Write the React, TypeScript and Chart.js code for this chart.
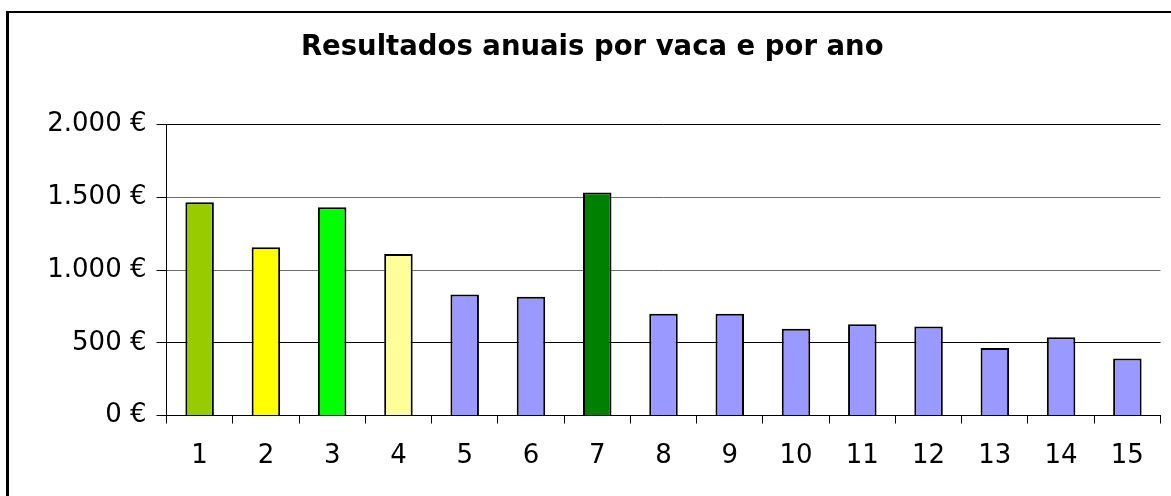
import React, { useEffect, useRef } from 'react';
import { Chart, registerables } from 'chart.js';

Chart.register(...registerables);

const categories = ['1', '2', '3', '4', '5', '6', '7', '8', '9', '10', '11', '12', '13', '14', '15'];
const values = [1465, 1157, 1432, 1110, 831, 817, 1533, 700, 700, 596, 627, 611, 464, 537, 392];
const barColors = [
  '#99CC00', '#FFFF00', '#00FF00', '#FFFF99', '#9999FF', '#9999FF', '#008000',
  '#9999FF', '#9999FF', '#9999FF', '#9999FF', '#9999FF', '#9999FF', '#9999FF', '#9999FF',
];
const yTickValues = [0, 500, 1000, 1500, 2000];
const yTickLabels = ['0 €', '500 €', '1.000 €', '1.500 €', '2.000 €'];
const titleText = 'Resultados anuais por vaca e por ano';

export default function App() {
  const canvasRef = useRef<HTMLCanvasElement | null>(null);

  useEffect(() => {
    const canvas = canvasRef.current;
    if (!canvas) return;
    const chart = new Chart(canvas, {
      type: 'bar',
      data: {
        labels: categories,
        datasets: [
          {
            data: values,
            backgroundColor: barColors,
            borderColor: '#000000',
            borderWidth: 2,
            barPercentage: 0.43,
            categoryPercentage: 1,
          },
        ],
      },
      options: {
        responsive: false,
        animation: false,
        devicePixelRatio: 1,
        layout: { padding: { left: 0, right: 10.5, top: 0, bottom: 0 } },
        plugins: {
          legend: { display: false },
          tooltip: { enabled: false },
          title: {
            display: true,
            text: titleText,
            color: '#000000',
            font: { family: 'DejaVu Sans', size: 27.5, weight: 'bold', lineHeight: 1.2 },
            padding: { top: 31, bottom: 60.5 },
          },
        },
        scales: {
          x: {
            grid: {
              display: true,
              drawOnChartArea: false,
              drawTicks: true,
              tickLength: 8,
              color: '#000000',
              offset: true,
            },
            border: { display: true, color: '#000000', width: 1 },
            ticks: {
              color: '#000000',
              font: { family: 'DejaVu Sans', size: 26 },
              padding: 17,
              maxRotation: 0,
              autoSkip: false,
            },
            afterFit: (scale: any) => {
              scale.height = 80.5;
            },
          },
          y: {
            min: 0,
            max: 2000,
            grid: {
              display: true,
              drawTicks: true,
              tickLength: 10,
              tickColor: '#000000',
              color: (ctx: any) =>
                ctx.tick && (ctx.tick.value === 1000 || ctx.tick.value === 1500) ? '#6e6e6e' : '#000000',
            },
            border: { display: true, color: '#000000', width: 1 },
            ticks: {
              stepSize: 500,
              color: '#000000',
              font: { family: 'DejaVu Sans', size: 26 },
              padding: 10,
              callback: (value: any) => {
                const i = yTickValues.indexOf(Number(value));
                return i >= 0 ? yTickLabels[i] : '';
              },
            },
            afterFit: (scale: any) => {
              scale.width = 142.5;
            },
          },
        },
      },
    });
    return () => chart.destroy();
  }, []);

  return (
    <div
      style={{
        position: 'fixed',
        left: 0,
        top: 0,
        width: 1171,
        height: 496,
        overflow: 'hidden',
        background: '#ffffff',
      }}
    >
      <div
        style={{
          position: 'absolute',
          left: 6,
          top: 11,
          width: 2000,
          height: 2000,
          borderLeft: '3px solid #000000',
          borderTop: '2px solid #000000',
        }}
      />
      <canvas
        ref={canvasRef}
        width={1147}
        height={496}
        style={{ position: 'absolute', left: 24, top: 0, width: 1147, height: 496 }}
      />
    </div>
  );
}
